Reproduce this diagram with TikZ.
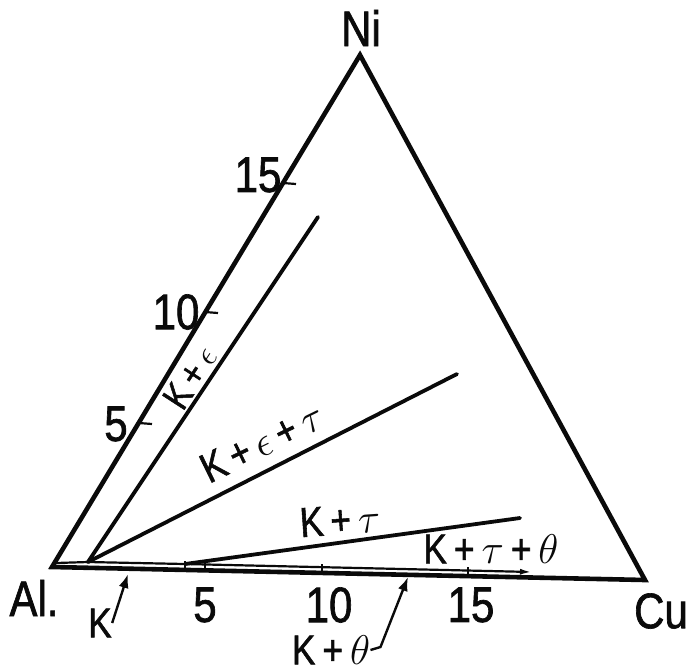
\documentclass[tikz,border=0pt]{standalone}
\usepackage{fontspec}
\setsansfont{Liberation Sans}
\newfontfamily\lettering[FakeStretch=0.84,FakeBold=1.3]{Liberation Sans}
\usetikzlibrary{arrows.meta}
\definecolor{ink}{HTML}{0A0A0A}

\begin{document}
\begin{tikzpicture}[x=0.5pt,y=-0.5pt,font=\lettering,text=ink,>=Latex,
    side/.style={ink,line width=2.3pt,line join=miter},
    bound/.style={ink,line width=1.9pt,line cap=round},
    fine/.style={ink,line width=1.1pt},
    big/.style={font=\fontsize{25}{27}\selectfont\lettering,inner sep=1pt},
    phase/.style={font=\fontsize{21}{23}\selectfont\lettering,inner sep=0pt},
    leader/.style={ink,line width=1.2pt,->,>={Latex[length=7pt,width=5pt]}}]
  \useasboundingbox (0,0) rectangle (686,671);
  % corners of the triangle
  \coordinate (Al) at (52,567);
  \coordinate (Ni) at (360,55);
  \coordinate (Cu) at (645,580);
  % phase boundaries
  \coordinate (kp) at (88,562);
  \coordinate (ke) at (318,217);
  \coordinate (ket) at (457,374);
  \coordinate (kt0) at (185,564);
  \coordinate (kt) at (520,518);
  \coordinate (b0) at (56,563);
  \coordinate (kth) at (532,572);
  \draw[side] (Al) -- (Ni) -- (Cu) -- cycle;
  \draw[bound] (kp) -- (ke);
  \draw[bound] (kp) -- (ket);
  \draw[bound] (kt0) -- (kt);
  \draw[fine,->,>={Latex[length=6pt,width=3pt]}] (b0) -- (kp) -- (kt0) -- (kth);
  % corner labels
  \node[big] (ni) at (361,28) {Ni};
  \node[big] (al) at (34,598) {Al.};
  \node[big] (cu) at (661,611) {Cu};
  % scale on the Al--Ni side
  \foreach \x/\y/\lx/\ly/\n in {139/423/116/424/5,205/312/176/312/10,283/183/258/175/15}{
    \draw[fine] (\x,\y) -- ++(13,1);
    \node[big] (s\n) at (\lx,\ly) {\n};
  }
  % scale on the Al--Cu side
  \foreach \x/\y in {185/570,205/571,322/573,468/576}
    \draw[fine] (\x,\y) -- ++(0,-9);
  \foreach \lx/\n in {205/5,329/10,471/15}
    \node[big] (b\n) at (\lx,605) {\n};
  % fields
  \node[phase,rotate=57,font=\fontsize{19}{21}\selectfont\lettering] (fke) at (190,377) {K\,+\,$\epsilon$};
  \node[phase,rotate=26] (fket) at (262,442) {K\,+\,$\epsilon$\,+\,$\tau$};
  \node[phase,rotate=4] (fkt) at (340,520) {K\,+\,$\tau$};
  \node[phase] (fktt) at (491,549) {K\,+\,$\tau$\,+\,$\theta$};
  \node[phase] (fk) at (100,623) {K};
  \node[phase] (fkth) at (331,650) {K\,+\,$\theta$};
  \coordinate (kend) at (128,574);
  \coordinate (thend) at (408,577);
  \draw[leader] (fk.east) -- (kend);
  \draw[leader] (fkth.east) -- ++(10,-3) -- (thend);
\end{tikzpicture}
\end{document}
